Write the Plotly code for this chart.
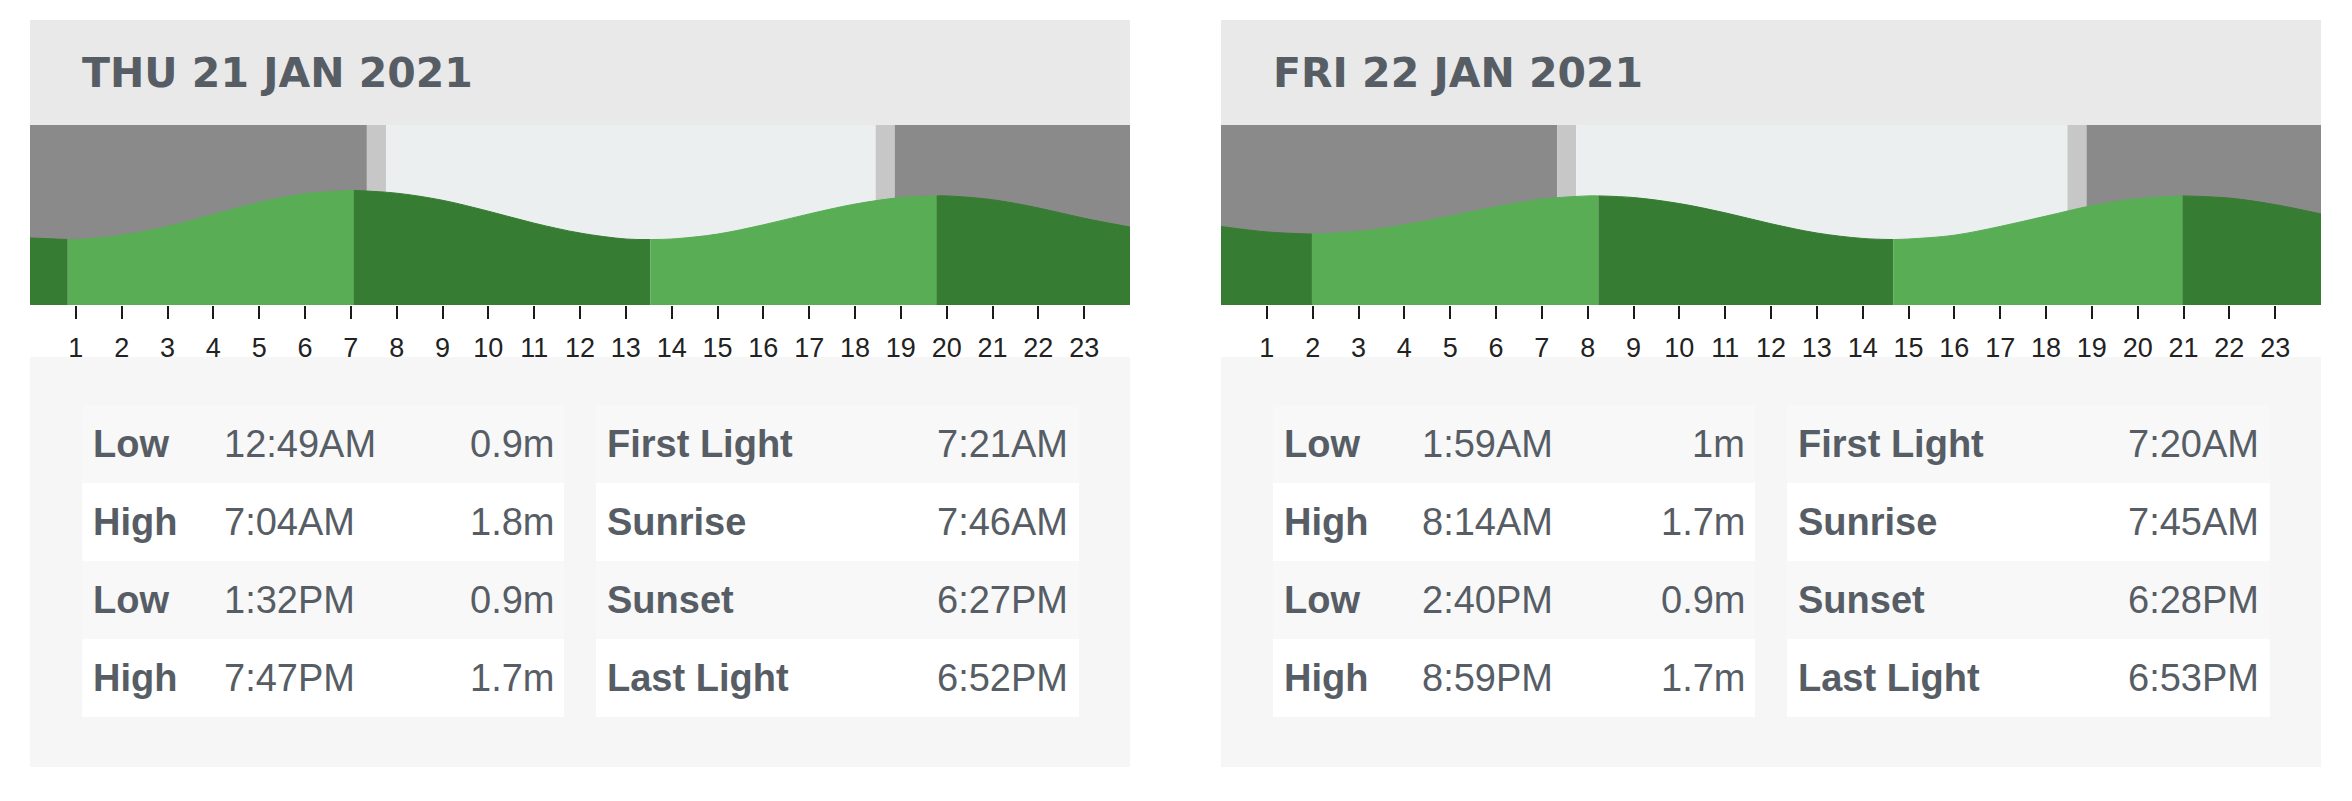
import plotly.graph_objects as go

W, H = 2352, 801

# ---------------- data ----------------
day_titles = ["THU 21 JAN 2021", "FRI 22 JAN 2021"]

thu_tide_types = ["Low", "High", "Low", "High"]
thu_tide_times = ["12:49AM", "7:04AM", "1:32PM", "7:47PM"]
thu_tide_heights = [0.9, 1.8, 0.9, 1.7]

fri_tide_types = ["Low", "High", "Low", "High"]
fri_tide_times = ["1:59AM", "8:14AM", "2:40PM", "8:59PM"]
fri_tide_heights = [1.0, 1.7, 0.9, 1.7]

sun_labels = ["First Light", "Sunrise", "Sunset", "Last Light"]
thu_sun_times = ["7:21AM", "7:46AM", "6:27PM", "6:52PM"]
fri_sun_times = ["7:20AM", "7:45AM", "6:28PM", "6:53PM"]

hours = list(range(25))
tick_hours = list(range(1, 24))
# tide height (m) at each hour
thu_hourly = [0.93, 0.90, 0.98, 1.14, 1.36, 1.58, 1.74, 1.80, 1.75, 1.62, 1.42, 1.20, 1.02,
              0.91, 0.91, 1.00, 1.17, 1.37, 1.55, 1.67, 1.70, 1.63, 1.48, 1.29, 1.13]
fri_hourly = [1.14, 1.04, 1.00, 1.05, 1.17, 1.33, 1.50, 1.64, 1.70, 1.67, 1.56, 1.39, 1.19,
              1.02, 0.92, 0.91, 0.98, 1.14, 1.33, 1.52, 1.65, 1.70, 1.66, 1.54, 1.37]

# ---------------- style ----------------
C_HEADER = "#e9e9e9"
C_PANEL = "#f6f6f6"
C_ROW = ["#f8f8f8", "#ffffff", "#f8f8f8", "#ffffff"]
C_NIGHT = "#8a8a8a"
C_TWI = "#c7c7c7"
C_DAY = "#eceff0"
C_RISE = "#58ad55"
C_FALL = "#377c33"
C_TEXT = "#575d65"
Y_MIN, Y_MAX = -0.3, 3.0

card_left = [30, 1221]
card_w = 1100
time_col = [192, 199]


def to_hours(s):
    hm, ap = s[:-2], s[-2:]
    h, m = hm.split(":")
    h = int(h) % 12
    if ap == "PM":
        h += 12
    return h + int(m) / 60.0


def px(x):
    return x / W


def py(y):
    return 1 - y / H


days = [
    (day_titles[0], thu_tide_types, thu_tide_times, thu_tide_heights, thu_sun_times, thu_hourly),
    (day_titles[1], fri_tide_types, fri_tide_times, fri_tide_heights, fri_sun_times, fri_hourly),
]

fig = go.Figure()
shapes = []
annotations = []
layout_axes = {}

for ci, (title, ttypes, ttimes, theights, stimes, hourly) in enumerate(days):
    x0 = card_left[ci]
    xa = "x" if ci == 0 else "x2"
    ya = "y" if ci == 0 else "y2"
    xname = "xaxis" if ci == 0 else "xaxis2"
    yname = "yaxis" if ci == 0 else "yaxis2"

    # card backgrounds
    shapes.append(dict(type="rect", xref="paper", yref="paper", layer="below",
                       x0=px(x0), x1=px(x0 + card_w), y0=py(125), y1=py(20),
                       fillcolor=C_HEADER, line_width=0))
    shapes.append(dict(type="rect", xref="paper", yref="paper", layer="below",
                       x0=px(x0), x1=px(x0 + card_w), y0=py(767), y1=py(357),
                       fillcolor=C_PANEL, line_width=0))
    for r in range(4):
        top = 405 + 78 * r
        for (a, b) in [(52, 534), (566, 1049)]:
            shapes.append(dict(type="rect", xref="paper", yref="paper", layer="below",
                               x0=px(x0 + a), x1=px(x0 + b), y0=py(top + 78), y1=py(top),
                               fillcolor=C_ROW[r], line_width=0))

    annotations.append(dict(text=title, xref="paper", yref="paper", x=px(x0 + 50), y=py(73),
                            xanchor="left", yanchor="middle", showarrow=False,
                            font=dict(family="DejaVu Sans", size=41, color=C_TEXT, weight="bold")))

    # sky shading
    sun_h = [to_hours(s) for s in stimes]
    bounds = [0] + sun_h + [24]
    sky_cols = [C_NIGHT, C_TWI, C_DAY, C_TWI, C_NIGHT]
    for k in range(5):
        shapes.append(dict(type="rect", xref=xa, yref=ya + " domain", layer="below",
                           x0=bounds[k], x1=bounds[k + 1], y0=0, y1=1,
                           fillcolor=sky_cols[k], line_width=0))

    # tide curve points
    ext_t = [to_hours(t) for t in ttimes]
    pts = [(t, v) for t, v in zip(hours, hourly) if all(abs(t - e) > 0.15 for e in ext_t)]
    pts += list(zip(ext_t, theights))
    pts.sort()
    seg_b = [0] + ext_t + [24]
    for k in range(len(seg_b) - 1):
        a, b = seg_b[k], seg_b[k + 1]
        sx = [p[0] for p in pts if a - 1e-9 <= p[0] <= b + 1e-9]
        sy = [p[1] for p in pts if a - 1e-9 <= p[0] <= b + 1e-9]
        if k < len(ttypes):
            rising = ttypes[k] == "High"
        else:
            rising = ttypes[-1] == "Low"
        col = C_RISE if rising else C_FALL
        fig.add_trace(go.Scatter(x=[a, b], y=[Y_MIN, Y_MIN], mode="lines", line=dict(width=0),
                                 xaxis=xa, yaxis=ya, showlegend=False, hoverinfo="skip"))
        fig.add_trace(go.Scatter(x=sx, y=sy, mode="lines", fill="tonexty", fillcolor=col,
                                 line=dict(color=col, width=1, shape="spline", smoothing=1.0),
                                 xaxis=xa, yaxis=ya, showlegend=False, hoverinfo="skip"))

    dom_x = [px(x0), px(x0 + card_w)]
    layout_axes[xname] = dict(domain=dom_x, range=[0, 24], showgrid=False, zeroline=False,
                              showline=False, ticks="outside", ticklen=13, tickwidth=2,
                              tickcolor="#1a1a1a", tickvals=tick_hours,
                              ticktext=[str(h) for h in tick_hours],
                              tickfont=dict(family="Liberation Sans Narrow, Liberation Sans",
                                            size=27, color="#222222"),
                              ticklabelstandoff=6, anchor=ya, fixedrange=True)
    layout_axes[yname] = dict(domain=[py(305), py(125)], range=[Y_MIN, Y_MAX], visible=False,
                              anchor=xa, fixedrange=True)

    # table text
    for r in range(4):
        yc = py(444 + 78 * r)
        annotations.append(dict(text="<b>%s</b>" % ttypes[r], xref="paper", yref="paper",
                                x=px(x0 + 61), y=yc, xanchor="left", yanchor="middle",
                                showarrow=False,
                                font=dict(family="Liberation Sans", size=38, color=C_TEXT)))
        annotations.append(dict(text=ttimes[r], xref="paper", yref="paper",
                                x=px(x0 + time_col[ci]), y=yc, xanchor="left", yanchor="middle",
                                showarrow=False,
                                font=dict(family="Liberation Sans", size=38, color=C_TEXT)))
        annotations.append(dict(text="%gm" % theights[r], xref="paper", yref="paper",
                                x=px(x0 + 526), y=yc, xanchor="right", yanchor="middle",
                                showarrow=False,
                                font=dict(family="Liberation Sans", size=38, color=C_TEXT)))
        annotations.append(dict(text="<b>%s</b>" % sun_labels[r], xref="paper", yref="paper",
                                x=px(x0 + 575), y=yc, xanchor="left", yanchor="middle",
                                showarrow=False,
                                font=dict(family="Liberation Sans", size=38, color=C_TEXT)))
        annotations.append(dict(text=stimes[r], xref="paper", yref="paper",
                                x=px(x0 + 1040), y=yc, xanchor="right", yanchor="middle",
                                showarrow=False,
                                font=dict(family="Liberation Sans", size=38, color=C_TEXT)))

fig.update_layout(width=W, height=H, margin=dict(l=0, r=0, t=0, b=0),
                  paper_bgcolor="#ffffff", plot_bgcolor="rgba(0,0,0,0)",
                  shapes=shapes, annotations=annotations, showlegend=False,
                  **layout_axes)

fig.write_html("out.html", config={"displayModeBar": False},
               post_script="document.body.style.margin='0';document.body.style.overflow='hidden';")
